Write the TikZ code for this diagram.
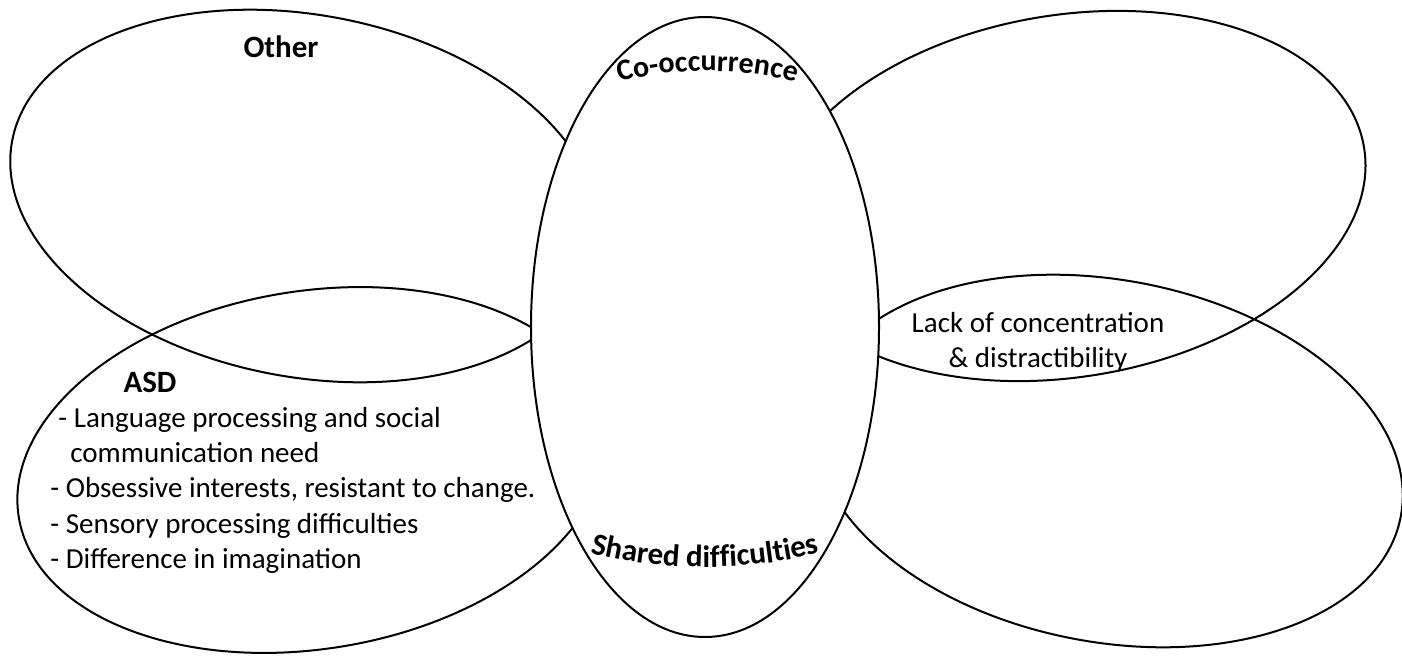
\documentclass[tikz,border=0pt]{standalone}
\usepackage{fontspec}
\setmainfont{Carlito}
\usepackage{tikz}
\usetikzlibrary{decorations.text}

\begin{document}
\begin{tikzpicture}[x=0.5pt,y=0.5pt,
  petal/.style={draw,line width=1pt},
  heading/.style={font=\fontsize{15.5}{18}\selectfont\bfseries,anchor=base},
  body/.style={font=\fontsize{14.5}{17.6}\selectfont}]
\useasboundingbox (0,0) rectangle (1402,655);
% four petals
\draw[petal,rotate around={-10.7:(305,459)}] (305,459) ellipse (298 and 181);
\draw[petal,rotate around={9.3:(1068,459)}] (1068,459) ellipse (300 and 181);
\draw[petal,rotate around={9.1:(312,185)}] (312,185) ellipse (297 and 179);
\draw[petal,rotate around={-10.7:(1108,194)}] (1108,194) ellipse (298 and 181);
% centre
\draw[petal,fill=white] (705,328) ellipse (174 and 310);
\path[decorate,decoration={text along path,text align=center,
  text={|\fontsize{15}{18}\selectfont\bfseries|Co-occurrence}}]
  (598,566) .. controls (660,590) and (755,590) .. (817,566);
\path[decorate,decoration={text along path,text align=center,
  text={|\fontsize{15.5}{18}\selectfont\bfseries|Shared difficulties}}]
  (575,106) .. controls (660,82) and (750,82) .. (835,106);
% labels
\node[heading] (other) at (281,597) {Other};
\node[heading] (asd) at (150,263) {ASD};
\node[body,align=left,anchor=north west,inner sep=0] (asdlist) at (50,248)
  {\hspace*{4pt}- Language processing and social\\
   \hspace*{10pt}communication need\\
   - Obsessive interests, resistant to change.\\
   - Sensory processing difficulties\\
   - Difference in imagination};
\node[body,align=center] (lack) at (1038,313) {Lack of concentration\\ \& distractibility};
\end{tikzpicture}
\end{document}
